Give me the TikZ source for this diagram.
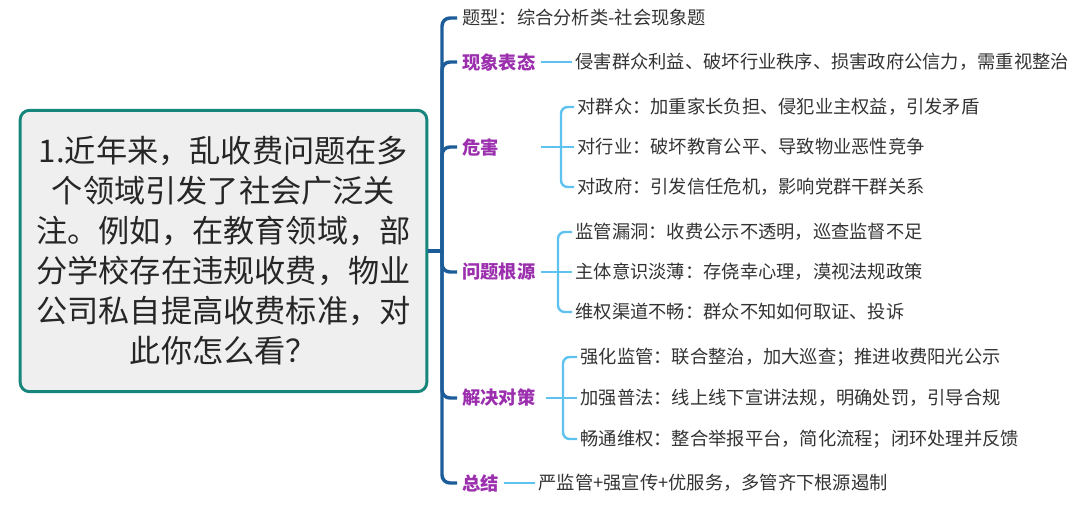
\documentclass[tikz,border=0pt]{standalone}
\usepackage{fontspec}
\setmainfont{Noto Sans CJK SC}
\usetikzlibrary{positioning, calc}
\definecolor{trunkblue}{HTML}{1C5D99}
\definecolor{twigblue}{HTML}{5EC2F0}
\definecolor{tagpurple}{HTML}{9B2FAE}
\definecolor{boxteal}{HTML}{16857C}
\definecolor{boxfill}{HTML}{EFEFEF}
\definecolor{inkgray}{HTML}{333333}

\begin{document}
\begin{tikzpicture}[x=0.75pt, y=-0.75pt,
  q/.style={draw=boxteal, line width=2.2pt, rounded corners=7pt, fill=boxfill, minimum width=305pt, minimum height=211pt, align=center, font=\fontsize{23.4}{30}\selectfont, text=black!85},
  tag/.style={anchor=west, inner xsep=3.75pt, inner ysep=2pt, text width=55pt, align=left, font=\fontsize{13.7}{16}\selectfont\bfseries, text=tagpurple},
  leaf/.style={anchor=west, inner xsep=2.5pt, inner ysep=2pt, font=\fontsize{13.7}{16}\selectfont, text=inkgray},
  trunk/.style={draw=trunkblue, line width=2.6pt, rounded corners=6pt},
  twig/.style={draw=twigblue, line width=1.8pt, rounded corners=5pt}
]
  \useasboundingbox (0,0) rectangle (1080,511);

  % question box
  \node[q] (q) at (223.5,251) {1.近年来，乱收费问题在多\\个领域引发了社会广泛关\\注。例如，在教育领域，部\\分学校存在违规收费，物业\\公司私自提高收费标准，对\\此你怎么看？};
  \coordinate (hub) at (442,251);

  % first level
  \node[leaf, inner xsep=3.75pt] (tx) at (457,18) {题型：综合分析类-社会现象题};
  \node[tag] (xx) at (457,62) {现象表态};
  \node[tag] (wh) at (457,147) {危害};
  \node[tag] (gy) at (457,272) {问题根源};
  \node[tag, text width=58.5pt] (jj) at (457,398) {解决对策};
  \node[tag, text width=27pt] (zj) at (457,483) {总结};

  % second level
  \node[leaf] (xx1) at (572,62) {侵害群众利益、破坏行业秩序、损害政府公信力，需重视整治};

  \node[leaf] (wh1) at (574,107) {对群众：加重家长负担、侵犯业主权益，引发矛盾};
  \node[leaf] (wh2) at (574,147) {对行业：破坏教育公平、导致物业恶性竞争};
  \node[leaf] (wh3) at (574,187) {对政府：引发信任危机，影响党群干群关系};
  \coordinate (whb) at (561,147);

  \node[leaf] (gy1) at (572,232) {监管漏洞：收费公示不透明，巡查监督不足};
  \node[leaf] (gy2) at (572,272) {主体意识淡薄：存侥幸心理，漠视法规政策};
  \node[leaf] (gy3) at (572,312) {维权渠道不畅：群众不知如何取证、投诉};
  \coordinate (gyb) at (558,272);

  \node[leaf] (jj1) at (577,357) {强化监管：联合整治，加大巡查；推进收费阳光公示};
  \node[leaf] (jj2) at (577,398) {加强普法：线上线下宣讲法规，明确处罚，引导合规};
  \node[leaf] (jj3) at (577,439) {畅通维权：整合举报平台，简化流程；闭环处理并反馈};
  \coordinate (jjb) at (563,398);

  \node[leaf] (zj1) at (535,483) {严监管+强宣传+优服务，多管齐下根源遏制};

  % trunk
  \draw[trunk] (q.east) -- (hub);
  \foreach \n in {tx,xx,wh,gy,jj,zj}
    \draw[trunk] (hub) |- (\n.west);

  % twigs
  \draw[twig] (xx.east) -- (xx1.west);
  \draw[twig] (zj.east) -- (zj1.west);
  \draw[twig] (wh.east) -- (wh2.west);
  \draw[twig] (gy.east) -- (gy2.west);
  \draw[twig] (jj.east) -- (jj2.west);
  \foreach \b/\c in {whb/wh1, whb/wh3, gyb/gy1, gyb/gy3, jjb/jj1, jjb/jj3}
    \draw[twig] (\b) |- (\c.west);
\end{tikzpicture}
\end{document}
